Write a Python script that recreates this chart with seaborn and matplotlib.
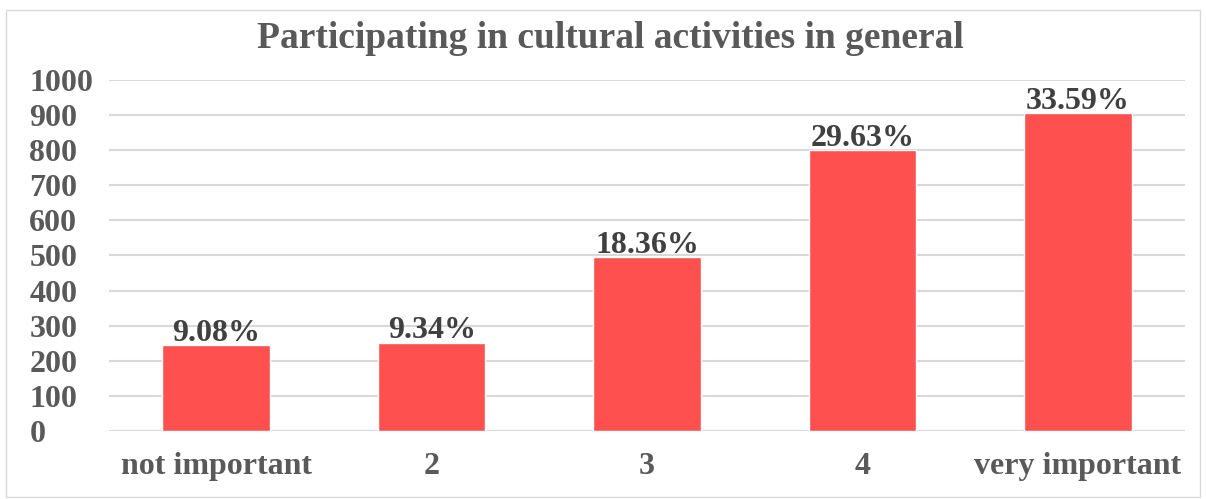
import matplotlib
matplotlib.use('Agg')
import matplotlib.pyplot as plt
import seaborn as sns
import pandas as pd

# data
categories = ["not important", "2", "3", "4", "very important"]
counts = [245, 252, 495, 799, 906]
percent_labels = ["9.08%", "9.34%", "18.36%", "29.63%", "33.59%"]

df = pd.DataFrame({"category": categories, "count": counts})

sns.set_theme(style="white")
plt.rcParams['font.family'] = ['Liberation Serif', 'DejaVu Serif']

text_col = "#595959"

fig = plt.figure(figsize=(12.06, 4.99), dpi=100)
ax = fig.add_axes([0.09, 0.136, 0.893, 0.704])

sns.barplot(data=df, x="category", y="count", color="#FF5050",
            width=0.5, saturation=1, ax=ax)

ax.set_ylim(0, 1000)
ax.set_yticks(range(0, 1001, 100))
ax.yaxis.grid(True, color="#D9D9D9", linewidth=1.5)
ax.set_axisbelow(True)
sns.despine(ax=ax, left=True, bottom=True, top=True, right=True)
ax.axhline(0, color="#D9D9D9", linewidth=1.5, zorder=0)

ax.set_xlabel("")
ax.set_ylabel("")

ax.tick_params(axis='y', length=0, pad=57, labelsize=23, labelcolor=text_col)
ax.tick_params(axis='x', length=0, pad=15, labelsize=23, labelcolor=text_col)
for lbl in ax.get_yticklabels():
    lbl.set_horizontalalignment('left')
    lbl.set_fontweight('bold')
for lbl in ax.get_xticklabels():
    lbl.set_fontweight('bold')

ax.bar_label(ax.containers[0], labels=percent_labels, padding=-2,
             fontsize=23, fontweight='bold', color="#404040")

fig.suptitle("Participating in cultural activities in general", x=0.506, y=0.958,
             fontsize=27, fontweight='bold', color=text_col)

# light border around the whole chart
fig.patches.append(plt.Rectangle((0.005, 0.005), 0.99, 0.975, transform=fig.transFigure,
                                 fill=False, edgecolor="#D9D9D9", linewidth=1))

plt.savefig("out.png", dpi=100)
